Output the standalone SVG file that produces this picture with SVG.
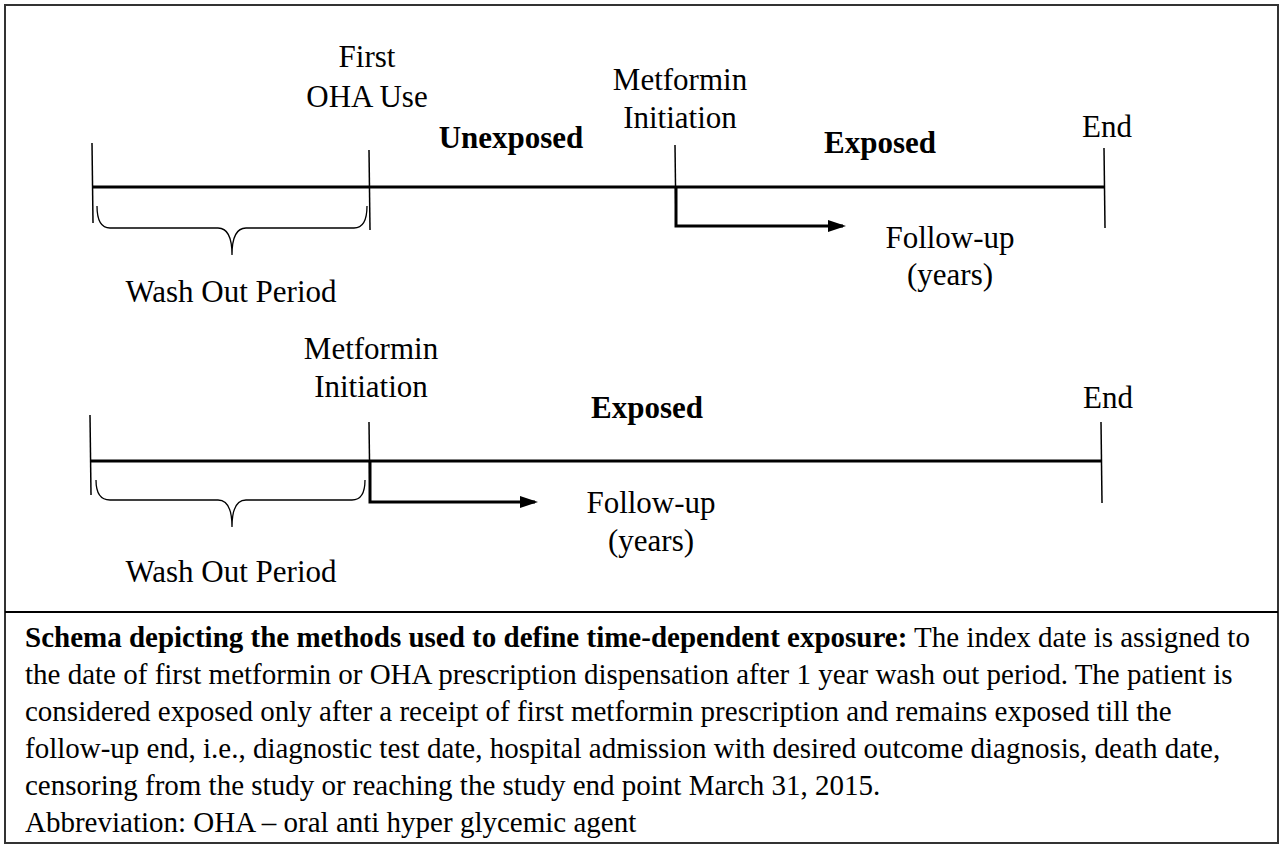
<svg xmlns="http://www.w3.org/2000/svg" width="1288" height="845" viewBox="0 0 1288 845">
<style>
.lbl{font-family:"Liberation Serif","Times New Roman",serif;font-size:31px;fill:#000;text-anchor:middle}
.b{font-weight:bold}
.cap{font-family:"Liberation Serif","Times New Roman",serif;font-size:29px;fill:#000}
.tl{stroke:#000;stroke-width:3;fill:none}
.tick{stroke:#000;stroke-width:1.5;fill:none}
.br{stroke:#000;stroke-width:1.3;fill:none}
.arr{stroke:#000;stroke-width:3;fill:none}
</style>
<defs>
<marker id="ah" markerWidth="6" markerHeight="4" refX="5" refY="2" orient="auto" markerUnits="strokeWidth">
<path d="M0,0 L6,2 L0,4 Z" fill="#000"/>
</marker>
</defs>
<rect x="5" y="5" width="1273" height="838" fill="#fff" stroke="#333" stroke-width="2"/>
<line x1="5" y1="612" x2="1278" y2="612" stroke="#000" stroke-width="2"/>

<g id="connectors">
<line class="tl" x1="92" y1="187" x2="1105" y2="187"/>
<path class="arr" d="M676,187 V226 H843" marker-end="url(#ah)"/>
<line class="tl" x1="90" y1="461" x2="1101" y2="461"/>
<path class="arr" d="M370,461 V502 H535" marker-end="url(#ah)"/>
</g>

<g id="timeline1">
<line class="tick" x1="92" y1="143" x2="93" y2="223"/>
<line class="tick" x1="369" y1="150" x2="370" y2="230"/>
<line class="tick" x1="675" y1="145" x2="676" y2="226"/>
<line class="tick" x1="1104" y1="148" x2="1105" y2="228"/>
<path class="br" d="M97,206 Q97,228 110,228 H218 Q232,228 232,255 Q232,228 246,228 H354 Q367,228 367,206"/>
</g>
<g id="first-oha">
<text class="lbl" x="367" y="67">First</text>
<text class="lbl" x="367" y="107">OHA Use</text>
</g>
<g id="unexposed1"><text class="lbl b" x="511" y="148">Unexposed</text></g>
<g id="metformin1">
<text class="lbl" x="680" y="90">Metformin</text>
<text class="lbl" x="680" y="128">Initiation</text>
</g>
<g id="exposed1"><text class="lbl b" x="880" y="153">Exposed</text></g>
<g id="end1"><text class="lbl" x="1107" y="137">End</text></g>
<g id="followup1">
<text class="lbl" x="950" y="248">Follow-up</text>
<text class="lbl" x="950" y="285">(years)</text>
</g>
<g id="washout1"><text class="lbl" x="231" y="302">Wash Out Period</text></g>

<g id="timeline2">
<line class="tick" x1="90" y1="415" x2="91" y2="495"/>
<line class="tick" x1="369" y1="422" x2="370" y2="500"/>
<line class="tick" x1="1101" y1="422" x2="1102" y2="503"/>
<path class="br" d="M96,480 Q96,500 110,500 H218 Q232,500 232,527 Q232,500 246,500 H352 Q365,500 365,480"/>
</g>
<g id="metformin2">
<text class="lbl" x="371" y="359">Metformin</text>
<text class="lbl" x="371" y="397">Initiation</text>
</g>
<g id="exposed2"><text class="lbl b" x="647" y="418">Exposed</text></g>
<g id="end2"><text class="lbl" x="1108" y="408">End</text></g>
<g id="followup2">
<text class="lbl" x="651" y="513">Follow-up</text>
<text class="lbl" x="651" y="551">(years)</text>
</g>
<g id="washout2"><text class="lbl" x="231" y="582">Wash Out Period</text></g>

<g id="caption">
<text class="cap" x="25" y="647"><tspan font-weight="bold">Schema depicting the methods used to define time-dependent exposure:</tspan> The index date is assigned to</text>
<text class="cap" x="25" y="684">the date of first metformin or OHA prescription dispensation after 1 year wash out period. The patient is</text>
<text class="cap" x="25" y="721">considered exposed only after a receipt of first metformin prescription and remains exposed till the</text>
<text class="cap" x="25" y="758">follow-up end, i.e., diagnostic test date, hospital admission with desired outcome diagnosis, death date,</text>
<text class="cap" x="25" y="795">censoring from the study or reaching the study end point March 31, 2015.</text>
<text class="cap" x="25" y="832">Abbreviation: OHA – oral anti hyper glycemic agent</text>
</g>
</svg>
